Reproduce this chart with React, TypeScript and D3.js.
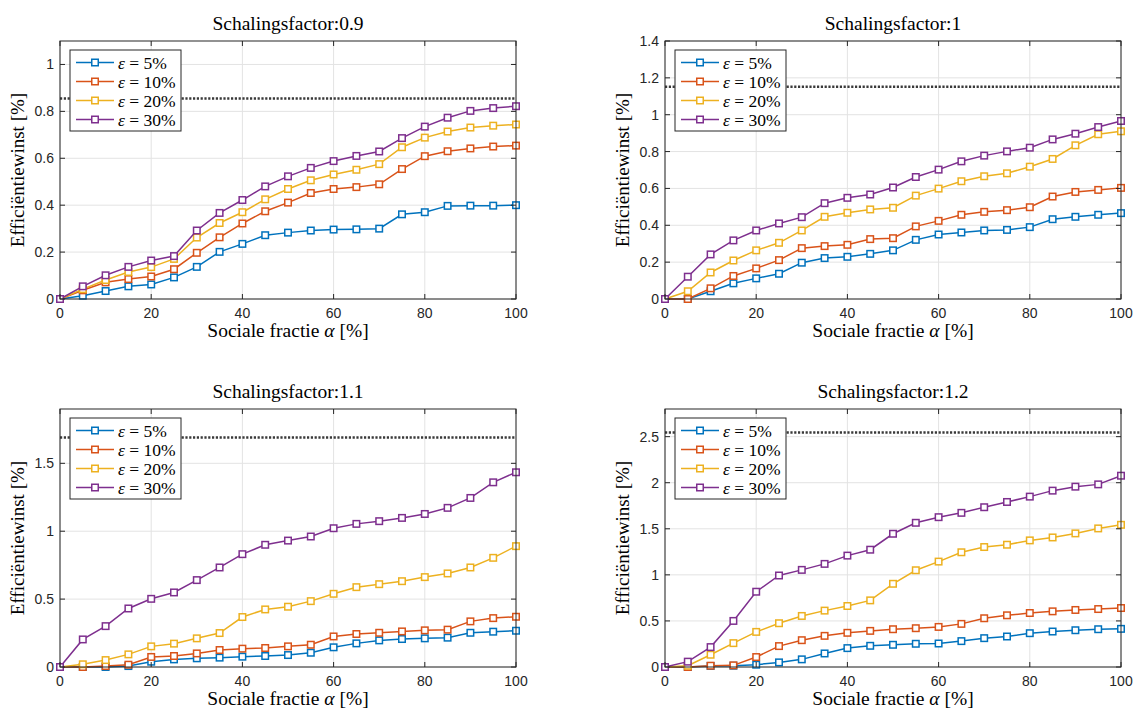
import React from "react";
import * as d3 from "d3";

// ---------- data ----------
const alpha = [0, 5, 10, 15, 20, 25, 30, 35, 40, 45, 50, 55, 60, 65, 70, 75, 80, 85, 90, 95, 100];
const seriesLabels = ["5%", "10%", "20%", "30%"];
const seriesColors = ["#0072BD", "#D95319", "#EDB120", "#7E2F8E"];

const titles = ["Schalingsfactor:0.9", "Schalingsfactor:1", "Schalingsfactor:1.1", "Schalingsfactor:1.2"];
const yMax = [1.1, 1.4, 1.9, 2.8];
const yTicks = [
  [0, 0.2, 0.4, 0.6, 0.8, 1],
  [0, 0.2, 0.4, 0.6, 0.8, 1, 1.2, 1.4],
  [0, 0.5, 1, 1.5],
  [0, 0.5, 1, 1.5, 2, 2.5],
];
const xTicks = [0, 20, 40, 60, 80, 100];
const refLine = [0.855, 1.152, 1.69, 2.545];

// Schalingsfactor 0.9
const s09_e5 = [0, 0.014, 0.034, 0.054, 0.062, 0.092, 0.137, 0.201, 0.235, 0.272, 0.283, 0.292, 0.296, 0.297, 0.300, 0.361, 0.370, 0.397, 0.398, 0.398, 0.400];
const s09_e10 = [0, 0.037, 0.071, 0.085, 0.096, 0.127, 0.197, 0.263, 0.322, 0.374, 0.411, 0.452, 0.469, 0.477, 0.489, 0.554, 0.609, 0.630, 0.642, 0.650, 0.654];
const s09_e20 = [0, 0.042, 0.081, 0.115, 0.136, 0.171, 0.262, 0.324, 0.370, 0.425, 0.469, 0.506, 0.531, 0.551, 0.575, 0.647, 0.688, 0.714, 0.731, 0.739, 0.744];
const s09_e30 = [0, 0.054, 0.101, 0.137, 0.164, 0.183, 0.292, 0.367, 0.422, 0.480, 0.523, 0.559, 0.588, 0.610, 0.629, 0.686, 0.735, 0.773, 0.802, 0.814, 0.822];

// Schalingsfactor 1
const s10_e5 = [0, 0.0, 0.042, 0.085, 0.112, 0.137, 0.197, 0.222, 0.229, 0.245, 0.264, 0.321, 0.350, 0.361, 0.372, 0.375, 0.390, 0.433, 0.446, 0.457, 0.466];
const s10_e10 = [0, 0.0, 0.058, 0.125, 0.166, 0.211, 0.276, 0.287, 0.294, 0.325, 0.330, 0.394, 0.424, 0.457, 0.473, 0.482, 0.498, 0.556, 0.581, 0.592, 0.603];
const s10_e20 = [0, 0.042, 0.144, 0.209, 0.264, 0.305, 0.372, 0.446, 0.468, 0.486, 0.495, 0.561, 0.599, 0.639, 0.666, 0.682, 0.718, 0.760, 0.834, 0.894, 0.910];
const s10_e30 = [0, 0.121, 0.242, 0.318, 0.372, 0.410, 0.444, 0.520, 0.549, 0.567, 0.605, 0.662, 0.702, 0.747, 0.778, 0.801, 0.821, 0.866, 0.897, 0.933, 0.966];

// Schalingsfactor 1.1
const s11_e5 = [0, 0, 0, 0.007, 0.039, 0.056, 0.064, 0.069, 0.076, 0.081, 0.088, 0.105, 0.145, 0.174, 0.196, 0.206, 0.211, 0.216, 0.252, 0.260, 0.267];
const s11_e10 = [0, 0, 0.007, 0.017, 0.074, 0.081, 0.100, 0.125, 0.135, 0.140, 0.152, 0.164, 0.225, 0.243, 0.252, 0.262, 0.270, 0.275, 0.336, 0.360, 0.370];
const s11_e20 = [0, 0.020, 0.051, 0.093, 0.152, 0.172, 0.211, 0.250, 0.368, 0.424, 0.444, 0.485, 0.539, 0.588, 0.610, 0.632, 0.662, 0.689, 0.733, 0.804, 0.890];
const s11_e30 = [0, 0.203, 0.301, 0.431, 0.502, 0.549, 0.640, 0.733, 0.831, 0.900, 0.931, 0.961, 1.022, 1.054, 1.074, 1.098, 1.127, 1.172, 1.245, 1.360, 1.434];

// Schalingsfactor 1.2
const s12_e5 = [0, 0, 0.011, 0.014, 0.025, 0.050, 0.083, 0.147, 0.205, 0.230, 0.241, 0.252, 0.255, 0.281, 0.313, 0.331, 0.367, 0.385, 0.399, 0.410, 0.414];
const s12_e10 = [0, 0, 0.014, 0.018, 0.108, 0.227, 0.291, 0.338, 0.371, 0.392, 0.410, 0.421, 0.435, 0.468, 0.529, 0.561, 0.586, 0.604, 0.619, 0.629, 0.640];
const s12_e20 = [0, 0.014, 0.133, 0.259, 0.381, 0.475, 0.554, 0.612, 0.662, 0.723, 0.903, 1.050, 1.144, 1.245, 1.302, 1.327, 1.374, 1.406, 1.450, 1.504, 1.543];
const s12_e30 = [0, 0.058, 0.216, 0.500, 0.817, 0.993, 1.054, 1.119, 1.209, 1.273, 1.446, 1.565, 1.626, 1.673, 1.734, 1.791, 1.849, 1.914, 1.957, 1.982, 2.076];

const panelSeries = [
  [s09_e5, s09_e10, s09_e20, s09_e30],
  [s10_e5, s10_e10, s10_e20, s10_e30],
  [s11_e5, s11_e10, s11_e20, s11_e30],
  [s12_e5, s12_e10, s12_e20, s12_e30],
];

// ---------- layout ----------
const W = 1134;
const H = 710;
const plotW = 456;
const plotH = 258;
const panelPos = [
  { left: 60, top: 41 },
  { left: 665, top: 41 },
  { left: 60, top: 409 },
  { left: 665, top: 409 },
];

const serif = "'Liberation Serif', 'DejaVu Serif', serif";
const sans = "'Liberation Sans', Arial, sans-serif";
const axisColor = "#262626";

function Panel({ idx }: { idx: number }) {
  const { left, top } = panelPos[idx];
  const x = d3.scaleLinear().domain([0, 100]).range([0, plotW]);
  const y = d3.scaleLinear().domain([0, yMax[idx]]).range([plotH, 0]);
  const line = d3
    .line<number>()
    .x((_, i) => x(alpha[i]))
    .y((d) => y(d));
  const ms = 6.5;
  const tickLen = 5;
  const fmt = (v: number) => String(+v.toFixed(2));

  return (
    <g transform={`translate(${left},${top})`}>
      <rect x={0} y={0} width={plotW} height={plotH} fill="#fff" />
      {/* grid */}
      {xTicks.map((t) => (
        <line key={"gx" + t} x1={x(t)} x2={x(t)} y1={0} y2={plotH} stroke="#e3e3e3" strokeWidth={1} />
      ))}
      {yTicks[idx].map((t) => (
        <line key={"gy" + t} x1={0} x2={plotW} y1={y(t)} y2={y(t)} stroke="#e3e3e3" strokeWidth={1} />
      ))}
      {/* reference dotted line */}
      <line
        x1={x(0)}
        x2={x(100)}
        y1={y(refLine[idx])}
        y2={y(refLine[idx])}
        stroke="#3a3a3a"
        strokeWidth={2.4}
        strokeDasharray="2.2 1.6"
      />
      {/* series */}
      {panelSeries[idx].map((s, si) => (
        <g key={"s" + si}>
          <path d={line(s) || ""} fill="none" stroke={seriesColors[si]} strokeWidth={1.5} />
          {s.map((v, i) => (
            <rect
              key={i}
              x={x(alpha[i]) - ms / 2}
              y={y(v) - ms / 2}
              width={ms}
              height={ms}
              fill="#fff"
              stroke={seriesColors[si]}
              strokeWidth={1.5}
            />
          ))}
        </g>
      ))}
      {/* box */}
      <rect x={0} y={0} width={plotW} height={plotH} fill="none" stroke={axisColor} strokeWidth={1} />
      {/* ticks */}
      {xTicks.map((t) => (
        <g key={"tx" + t}>
          <line x1={x(t)} x2={x(t)} y1={plotH} y2={plotH - tickLen} stroke={axisColor} />
          <line x1={x(t)} x2={x(t)} y1={0} y2={tickLen} stroke={axisColor} />
          <text
            x={x(t)}
            y={plotH + 19}
            textAnchor="middle"
            fontFamily={sans}
            fontSize={14}
            fill={axisColor}
          >
            {t}
          </text>
        </g>
      ))}
      {yTicks[idx].map((t) => (
        <g key={"ty" + t}>
          <line x1={0} x2={tickLen} y1={y(t)} y2={y(t)} stroke={axisColor} />
          <line x1={plotW} x2={plotW - tickLen} y1={y(t)} y2={y(t)} stroke={axisColor} />
          <text
            x={-6}
            y={y(t)}
            dy="0.36em"
            textAnchor="end"
            fontFamily={sans}
            fontSize={14}
            fill={axisColor}
          >
            {fmt(t)}
          </text>
        </g>
      ))}
      {/* title */}
      <text x={plotW / 2} y={-11} textAnchor="middle" fontFamily={serif} fontSize={19.5} fill="#000">
        {titles[idx]}
      </text>
      {/* x label */}
      <text x={plotW / 2} y={plotH + 38} textAnchor="middle" fontFamily={serif} fontSize={19.5} fill="#000">
        Sociale fractie <tspan fontStyle="italic">α</tspan> [%]
      </text>
      {/* y label */}
      <text
        transform={`translate(-36,${plotH / 2}) rotate(-90)`}
        textAnchor="middle"
        fontFamily={serif}
        fontSize={19}
        fill="#000"
      >
        Efficiëntiewinst [%]
      </text>
      {/* legend */}
      <g transform="translate(10,9)">
        <rect x={0} y={0} width={111} height={81} fill="#fff" stroke={axisColor} strokeWidth={1} />
        {seriesLabels.map((lab, si) => {
          const yy = 12.5 + si * 19;
          return (
            <g key={"lg" + si}>
              <line x1={6} x2={44} y1={yy} y2={yy} stroke={seriesColors[si]} strokeWidth={1.5} />
              <rect
                x={25 - ms / 2}
                y={yy - ms / 2}
                width={ms}
                height={ms}
                fill="#fff"
                stroke={seriesColors[si]}
                strokeWidth={1.5}
              />
              <text x={48} y={yy} dy="0.35em" fontFamily={serif} fontSize={17.5} fill="#000">
                <tspan fontStyle="italic">ε</tspan> = {lab}
              </text>
            </g>
          );
        })}
      </g>
    </g>
  );
}

export default function App() {
  return (
    <svg
      width={W}
      height={H}
      viewBox={`0 0 ${W} ${H}`}
      style={{ position: "absolute", left: 0, top: 0, background: "#fff" }}
    >
      <rect x={0} y={0} width={W} height={H} fill="#fff" />
      {[0, 1, 2, 3].map((i) => (
        <Panel key={i} idx={i} />
      ))}
    </svg>
  );
}
